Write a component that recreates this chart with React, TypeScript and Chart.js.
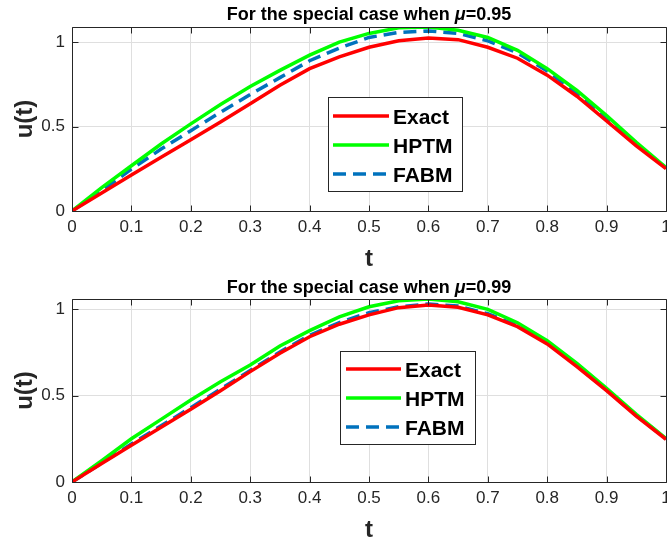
import React, { useEffect, useRef } from "react";
import { Chart, registerables } from "chart.js";
Chart.register(...registerables);

const tValues = [0, 0.05, 0.1, 0.15, 0.2, 0.25, 0.3, 0.35, 0.4, 0.45, 0.5, 0.55, 0.6, 0.65, 0.7, 0.75, 0.8, 0.85, 0.9, 0.95, 1];
const xTicks = [0, 0.1, 0.2, 0.3, 0.4, 0.5, 0.6, 0.7, 0.8, 0.9, 1];
const yTicks = [0, 0.5, 1];
const seriesLabels = ["Exact", "HPTM", "FABM"];

const exact95 = [0, 0.107, 0.213, 0.318, 0.422, 0.527, 0.635, 0.745, 0.843, 0.913, 0.97, 1.008, 1.025, 1.015, 0.97, 0.905, 0.805, 0.68, 0.533, 0.386, 0.251];
const hptm95 = [0, 0.139, 0.268, 0.397, 0.516, 0.631, 0.738, 0.833, 0.923, 1.0, 1.052, 1.085, 1.09, 1.071, 1.028, 0.952, 0.843, 0.714, 0.565, 0.407, 0.258];
const fabm95 = [0, 0.119, 0.248, 0.367, 0.476, 0.585, 0.69, 0.79, 0.89, 0.965, 1.028, 1.058, 1.067, 1.052, 1.008, 0.937, 0.829, 0.698, 0.552, 0.397, 0.256];

const exact99 = [0, 0.107, 0.213, 0.316, 0.42, 0.528, 0.638, 0.744, 0.84, 0.912, 0.966, 1.008, 1.023, 1.01, 0.966, 0.898, 0.798, 0.667, 0.528, 0.381, 0.247];
const hptm99 = [0, 0.123, 0.25, 0.362, 0.474, 0.58, 0.676, 0.786, 0.875, 0.955, 1.013, 1.048, 1.058, 1.042, 0.998, 0.921, 0.817, 0.686, 0.541, 0.391, 0.252];
const fabm99 = [0, 0.11, 0.22, 0.325, 0.43, 0.537, 0.645, 0.752, 0.848, 0.922, 0.979, 1.013, 1.029, 1.017, 0.973, 0.905, 0.805, 0.672, 0.532, 0.384, 0.249];

const FONT = '"Liberation Sans", Arial, Helvetica, sans-serif';
const AXIS_COLOR = "#262626";

const matlabPlugin = {
  id: "matlabFrame",
  afterDatasetsDraw(chart: any, _args: any, opts: any) {
    const { ctx, chartArea: a, scales } = chart;
    ctx.save();
    const L = Math.round(a.left) + 0.5;
    const T = Math.round(a.top) + 0.5;
    const R = Math.round(a.right) + 0.5;
    const B = Math.round(a.bottom) + 0.5;
    ctx.strokeStyle = AXIS_COLOR;
    ctx.lineWidth = 1;
    ctx.beginPath();
    ctx.moveTo(L, T); ctx.lineTo(R, T); ctx.lineTo(R, B); ctx.lineTo(L, B); ctx.closePath();
    const tl = 6;
    for (const tk of scales.x.ticks) {
      const px = Math.round(scales.x.getPixelForValue(tk.value)) + 0.5;
      ctx.moveTo(px, B); ctx.lineTo(px, B - tl);
      ctx.moveTo(px, T); ctx.lineTo(px, T + tl);
    }
    for (const tk of scales.y.ticks) {
      const py = Math.round(scales.y.getPixelForValue(tk.value)) + 0.5;
      ctx.moveTo(L, py); ctx.lineTo(L + tl, py);
      ctx.moveTo(R, py); ctx.lineTo(R - tl, py);
    }
    ctx.stroke();

    // legend
    const lg = opts.legend;
    ctx.fillStyle = "#ffffff";
    ctx.fillRect(lg.x, lg.y, lg.w, lg.h);
    ctx.strokeStyle = AXIS_COLOR;
    ctx.lineWidth = 1;
    ctx.strokeRect(lg.x + 0.5, lg.y + 0.5, lg.w, lg.h);
    chart.data.datasets.forEach((ds: any, i: number) => {
      const base = lg.rows[i];
      ctx.beginPath();
      ctx.strokeStyle = ds.borderColor;
      ctx.lineWidth = ds.borderWidth;
      ctx.setLineDash(ds.borderDash || []);
      ctx.moveTo(lg.lineX0, base - 8);
      ctx.lineTo(lg.lineX1, base - 8);
      ctx.stroke();
      ctx.setLineDash([]);
      ctx.fillStyle = "#000";
      ctx.font = `bold 21px ${FONT}`;
      ctx.textAlign = "left";
      ctx.textBaseline = "alphabetic";
      ctx.fillText(ds.label, lg.textX, base);
    });
    ctx.restore();
  },
  afterDraw(chart: any, _args: any, opts: any) {
    const { ctx, chartArea: a } = chart;
    ctx.save();
    // title with italic mu
    const parts = [
      { text: "For the special case when ", font: `bold 18px ${FONT}` },
      { text: "μ", font: `italic bold 18px ${FONT}` },
      { text: "=" + opts.mu, font: `bold 18px ${FONT}` },
    ];
    let total = 0;
    for (const p of parts) { ctx.font = p.font; total += ctx.measureText(p.text).width; }
    let x = (a.left + a.right) / 2 - total / 2;
    ctx.fillStyle = "#000";
    ctx.textBaseline = "alphabetic";
    ctx.textAlign = "left";
    for (const p of parts) {
      ctx.font = p.font;
      ctx.fillText(p.text, x, opts.titleBaseline);
      x += ctx.measureText(p.text).width;
    }
    // x label
    ctx.fillStyle = AXIS_COLOR;
    ctx.font = `bold 24px ${FONT}`;
    ctx.textAlign = "center";
    ctx.fillText("t", (a.left + a.right) / 2, a.bottom + 55);
    // y label
    ctx.translate(32, (a.top + a.bottom) / 2);
    ctx.rotate(-Math.PI / 2);
    ctx.fillText("u(t)", 0, 0);
    ctx.restore();
  },
};

function makeConfig(exact: number[], hptm: number[], fabm: number[], mu: string, topPad: number, xHeight: number, legend: any, titleBaseline: number) {
  const yMax = Math.max(...exact, ...hptm, ...fabm);
  const toPts = (arr: number[]) => tValues.map((t, i) => ({ x: t, y: arr[i] }));
  return {
    type: "line" as const,
    data: {
      datasets: [
        { label: seriesLabels[0], data: toPts(exact), borderColor: "#ff0000", borderWidth: 3.5, pointRadius: 0, tension: 0, fill: false },
        { label: seriesLabels[1], data: toPts(hptm), borderColor: "#00ff00", borderWidth: 3.5, pointRadius: 0, tension: 0, fill: false },
        { label: seriesLabels[2], data: toPts(fabm), borderColor: "#0072bd", borderWidth: 3.5, borderDash: [13, 7], pointRadius: 0, tension: 0, fill: false },
      ],
    },
    options: {
      responsive: false,
      animation: false,
      devicePixelRatio: 1,
      layout: { padding: { top: topPad, right: 1, left: 0, bottom: 0 } },
      plugins: {
        legend: { display: false },
        tooltip: { enabled: false },
        title: { display: false },
        matlabFrame: { mu, legend, titleBaseline },
      },
      scales: {
        x: {
          type: "linear",
          min: 0,
          max: 1,
          afterBuildTicks: (s: any) => { s.ticks = xTicks.map((v) => ({ value: v })); },
          afterFit: (s: any) => { s.height = xHeight; s.paddingLeft = 0; s.paddingRight = 0; },
          ticks: { color: AXIS_COLOR, font: { family: FONT, size: 17 }, padding: 6, maxRotation: 0, autoSkip: false, callback: (v: any) => String(v) },
          grid: { color: "#dfdfdf", drawTicks: false, lineWidth: 1 },
          border: { display: false },
        },
        y: {
          type: "linear",
          min: 0,
          max: yMax,
          afterBuildTicks: (s: any) => { s.ticks = yTicks.map((v) => ({ value: v })); },
          afterFit: (s: any) => { s.width = 72; s.paddingTop = 0; s.paddingBottom = 0; },
          ticks: { color: AXIS_COLOR, font: { family: FONT, size: 17 }, padding: 7, autoSkip: false, callback: (v: any) => String(v) },
          grid: { color: "#dfdfdf", drawTicks: false, lineWidth: 1 },
          border: { display: false },
        },
      },
    },
    plugins: [matlabPlugin],
  };
}

function Panel(props: { top: number; height: number; config: any }) {
  const ref = useRef<HTMLCanvasElement | null>(null);
  useEffect(() => {
    if (!ref.current) return;
    const chart = new Chart(ref.current, props.config);
    return () => chart.destroy();
  }, []);
  return (
    <canvas
      ref={ref}
      width={667}
      height={props.height}
      style={{ position: "absolute", left: 0, top: props.top, width: 667, height: props.height, display: "block" }}
    />
  );
}

export default function App() {
  const cfgTop = makeConfig(exact95, hptm95, fabm95, "0.95", 27, 59,
    { x: 328, y: 97, w: 134, h: 94, lineX0: 333, lineX1: 389, textX: 393, rows: [124, 153, 182] }, 20);
  const cfgBottom = makeConfig(exact99, hptm99, fabm99, "0.99", 29, 59,
    { x: 340, y: 81, w: 135, h: 93, lineX0: 346, lineX1: 401, textX: 405, rows: [107, 136, 165] }, 23);
  return (
    <div style={{ position: "fixed", left: 0, top: 0, width: 667, height: 541, background: "#fff", overflow: "hidden" }}>
      <Panel top={0} height={270} config={cfgTop} />
      <Panel top={270} height={271} config={cfgBottom} />
    </div>
  );
}
